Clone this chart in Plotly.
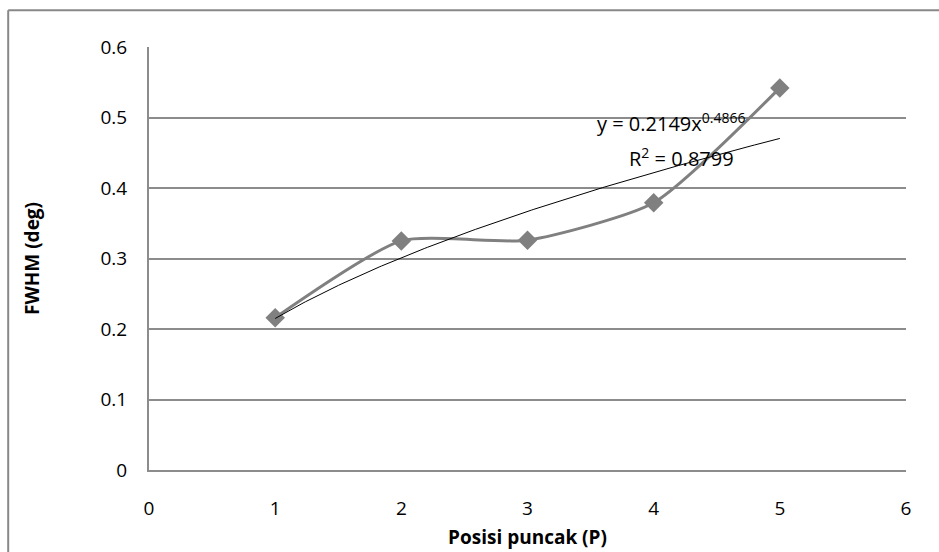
import numpy as np
import plotly.graph_objects as go

# Data
positions = [1, 2, 3, 4, 5]
fwhm = [0.216, 0.325, 0.326, 0.379, 0.542]

# Power trendline as shown on the chart: y = 0.2149 x^0.4866
trend_a = 0.2149
trend_b = 0.4866
trend_x = np.linspace(1, 5, 200)
trend_y = trend_a * trend_x ** trend_b

x_ticks = [0, 1, 2, 3, 4, 5, 6]
y_ticks = [0, 0.1, 0.2, 0.3, 0.4, 0.5, 0.6]
y_tick_text = ["0", "0.1", "0.2", "0.3", "0.4", "0.5", "0.6"]

FONT = "Open Sans"
GRID = "#8c8c8c"
SERIES = "#808080"

fig = go.Figure()

fig.add_trace(go.Scatter(
    x=positions, y=fwhm, mode="lines+markers",
    line=dict(color=SERIES, width=3, shape="spline", smoothing=0.6),
    marker=dict(symbol="diamond", size=15, color=SERIES),
    showlegend=False, hoverinfo="x+y",
))

fig.add_trace(go.Scatter(
    x=trend_x, y=trend_y, mode="lines",
    line=dict(color="black", width=1),
    showlegend=False, hoverinfo="skip",
))

fig.add_annotation(
    x=4.14, y=0.493, xref="x", yref="y",
    text=f"y = {trend_a}x<sup>{trend_b}</sup>",
    showarrow=False, font=dict(family=FONT, size=20, color="black"),
)
fig.add_annotation(
    x=4.22, y=0.443, xref="x", yref="y",
    text="R<sup>2</sup> = 0.8799",
    showarrow=False, font=dict(family=FONT, size=20, color="black"),
)

# Outer chart-area border (top and left visible; right/bottom run off the picture)
fig.add_shape(type="line", xref="paper", yref="paper",
              x0=-0.186, x1=1.2, y0=1.087, y1=1.087,
              line=dict(color="#888888", width=2))
fig.add_shape(type="line", xref="paper", yref="paper",
              x0=-0.186, x1=-0.186, y0=-0.3, y1=1.087,
              line=dict(color="#888888", width=2))

fig.update_layout(
    width=939, height=552,
    margin=dict(l=149, r=33, t=47, b=82),
    paper_bgcolor="white", plot_bgcolor="white",
    font=dict(family=FONT, size=19, color="black"),
    xaxis=dict(
        range=[0, 6], tickvals=x_ticks, showgrid=False, zeroline=False,
        showline=True, linecolor=GRID, linewidth=2, ticks="", automargin=False,
        tickfont=dict(family=FONT, size=19), ticklabelstandoff=20,
        title=dict(text="<b>Posisi puncak (P)</b>", font=dict(family=FONT, size=19), standoff=11),
    ),
    yaxis=dict(
        range=[0, 0.6], tickvals=y_ticks, ticktext=y_tick_text,
        showgrid=True, gridcolor=GRID, gridwidth=1.5, zeroline=False,
        showline=True, linecolor=GRID, linewidth=2, ticks="", automargin=False,
        tickfont=dict(family=FONT, size=19), ticklabelstandoff=16,
        title=dict(text="<b>FWHM (deg)</b>", font=dict(family=FONT, size=19), standoff=56),
    ),
)

fig.write_html("out.html")
